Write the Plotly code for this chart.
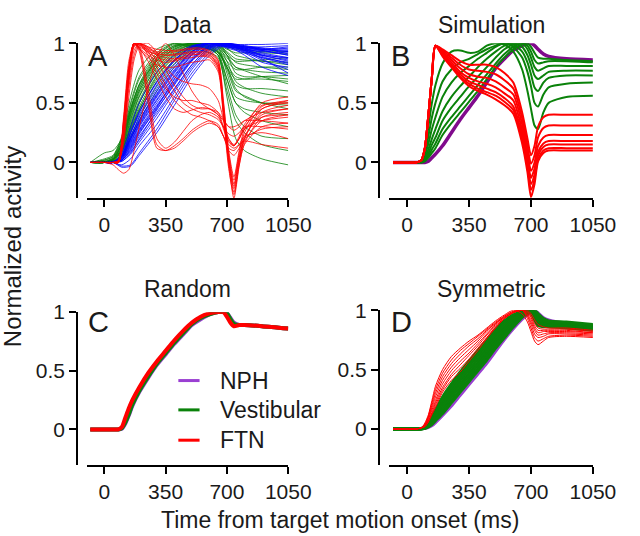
import plotly.graph_objects as go

# ---------------- DATA ----------------
# Panel A (Data): time samples (ms) and normalized activity per neuron
TIME_A_BLUE = [-80, 0, 50, 100, 150, 200, 300, 400, 500, 600, 700, 800, 900, 1050]
A_BLUE = [
    [0, 0, 0, 0.05, 0.2, 0.35, 0.6, 0.8, 0.95, 1.0, 0.99, 0.97, 0.96, 0.95],
    [0, 0, 0, 0.03, 0.15, 0.28, 0.5, 0.7, 0.88, 0.98, 1.0, 0.97, 0.95, 0.93],
    [0, 0, 0.01, 0.04, 0.18, 0.32, 0.55, 0.75, 0.92, 1.0, 0.97, 0.93, 0.9, 0.88],
    [0, 0, 0, 0.02, 0.12, 0.25, 0.45, 0.65, 0.85, 0.97, 1.0, 0.95, 0.9, 0.85],
    [0, 0, 0, 0.06, 0.25, 0.4, 0.65, 0.85, 0.97, 1.0, 0.96, 0.92, 0.88, 0.84],
    [0, 0, 0, -0.02, 0.03, 0.14, 0.32, 0.55, 0.78, 0.94, 0.99, 0.94, 0.88, 0.82],
    [0, 0, 0, 0.05, 0.22, 0.36, 0.58, 0.78, 0.93, 1.0, 0.98, 0.95, 0.93, 0.92],
    [0, 0, 0, 0.04, 0.16, 0.3, 0.52, 0.72, 0.9, 0.99, 0.99, 0.96, 0.94, 0.9],
    [0, 0, 0, 0.02, 0.1, 0.22, 0.42, 0.62, 0.82, 0.96, 1.0, 0.93, 0.86, 0.78],
    [0, 0, 0, -0.03, -0.02, 0.08, 0.28, 0.52, 0.75, 0.92, 1.0, 0.96, 0.92, 0.88],
    [0, 0, 0, 0.08, 0.3, 0.5, 0.76, 0.9, 0.98, 1.0, 0.97, 0.95, 0.94, 0.96],
    [0, 0, 0, 0.03, 0.14, 0.27, 0.48, 0.68, 0.87, 0.98, 0.99, 0.94, 0.87, 0.75],
    [0, 0, 0, 0.05, 0.2, 0.33, 0.56, 0.76, 0.93, 1.0, 0.98, 0.97, 0.97, 0.98],
    [0, 0, 0, 0.04, 0.17, 0.31, 0.53, 0.73, 0.91, 1.0, 0.99, 0.92, 0.84, 0.8],
    [0, 0, 0, 0.01, 0.08, 0.2, 0.44, 0.66, 0.86, 0.98, 1.0, 0.98, 0.96, 0.91],
    [0, 0, 0, 0.05, 0.21, 0.38, 0.62, 0.82, 0.96, 1.0, 0.99, 0.96, 0.9, 0.86],
    [0, 0, 0, 0.02, 0.11, 0.24, 0.46, 0.7, 0.9, 0.99, 0.98, 0.99, 0.99, 1.0],
    [0, 0, 0, 0.06, 0.24, 0.42, 0.68, 0.86, 0.97, 1.0, 0.98, 0.9, 0.8, 0.73],
    [0, 0, 0, 0.03, 0.13, 0.26, 0.47, 0.67, 0.86, 0.97, 1.0, 0.98, 0.95, 0.94],
    [0, 0, 0, 0.04, 0.19, 0.34, 0.57, 0.77, 0.93, 1.0, 0.98, 0.94, 0.91, 0.87],
    [0, 0, 0, 0.01, 0.07, 0.17, 0.37, 0.59, 0.8, 0.95, 1.0, 0.97, 0.94, 0.9],
    [0, 0, 0, 0.06, 0.26, 0.43, 0.67, 0.86, 0.97, 1.0, 0.97, 0.96, 0.95, 0.97],
    [0, 0, 0, 0.02, 0.09, 0.19, 0.4, 0.61, 0.82, 0.96, 0.99, 0.95, 0.89, 0.83],
    [0, 0, 0, -0.04, -0.03, 0.06, 0.25, 0.48, 0.72, 0.9, 0.99, 0.97, 0.95, 0.93],
]

TIME_A_GREEN = [-80, 0, 50, 100, 150, 200, 300, 400, 500, 600, 650, 700, 750, 800, 900, 1050]
A_GREEN = [
    [0, 0, 0.02, 0.1, 0.3, 0.5, 0.75, 0.9, 0.98, 1.0, 0.98, 0.9, 0.85, 0.85, 0.86, 0.88],
    [0, 0, 0.03, 0.15, 0.4, 0.6, 0.85, 0.97, 1.0, 0.98, 0.95, 0.85, 0.78, 0.78, 0.8, 0.8],
    [0, 0, 0.01, 0.08, 0.25, 0.42, 0.68, 0.85, 0.95, 1.0, 1.0, 0.9, 0.75, 0.72, 0.72, 0.7],
    [0, 0.02, 0.05, 0.2, 0.5, 0.72, 0.92, 1.0, 0.97, 0.95, 0.93, 0.8, 0.65, 0.62, 0.62, 0.6],
    [0, 0, 0.02, 0.12, 0.35, 0.55, 0.8, 0.93, 0.99, 1.0, 0.97, 0.75, 0.55, 0.52, 0.5, 0.5],
    [0, 0, 0.04, 0.18, 0.45, 0.65, 0.88, 0.98, 1.0, 0.96, 0.9, 0.7, 0.5, 0.45, 0.42, 0.4],
    [0, 0, 0.02, 0.1, 0.28, 0.45, 0.7, 0.86, 0.96, 1.0, 0.99, 0.95, 0.92, 0.92, 0.92, 0.91],
    [0, 0, 0.03, 0.14, 0.38, 0.58, 0.82, 0.95, 1.0, 0.98, 0.94, 0.82, 0.72, 0.7, 0.7, 0.68],
    [0, 0.03, 0.06, 0.22, 0.55, 0.78, 0.95, 1.0, 0.96, 0.92, 0.88, 0.6, 0.35, 0.25, 0.15, 0.1],
    [0, 0, 0.01, 0.06, 0.2, 0.35, 0.6, 0.8, 0.93, 1.0, 1.0, 0.96, 0.9, 0.88, 0.85, 0.82],
    [0, 0, 0.02, 0.12, 0.33, 0.52, 0.78, 0.92, 0.99, 1.0, 0.98, 0.85, 0.68, 0.63, 0.58, 0.55],
    [0, 0.02, 0.05, 0.2, 0.48, 0.7, 0.9, 0.99, 0.98, 0.95, 0.9, 0.55, 0.2, 0.1, 0.03, -0.02],
    [0, 0, 0.03, 0.16, 0.42, 0.62, 0.86, 0.97, 1.0, 0.97, 0.93, 0.78, 0.6, 0.56, 0.5, 0.45],
    [0, 0, 0.02, 0.09, 0.27, 0.44, 0.72, 0.88, 0.97, 1.0, 0.99, 0.92, 0.84, 0.82, 0.8, 0.78],
    [0, 0.01, 0.04, 0.17, 0.44, 0.66, 0.9, 1.0, 0.98, 0.95, 0.92, 0.8, 0.7, 0.7, 0.72, 0.73],
    [0, 0, 0.02, 0.11, 0.31, 0.5, 0.76, 0.91, 0.98, 1.0, 0.99, 0.93, 0.87, 0.86, 0.85, 0.84],
    [0, 0.08, 0.1, 0.2, 0.45, 0.65, 0.85, 0.95, 1.0, 0.97, 0.93, 0.8, 0.62, 0.55, 0.5, 0.48],
    [0, 0, 0.02, 0.15, 0.4, 0.6, 0.83, 0.96, 1.0, 0.95, 0.9, 0.65, 0.4, 0.3, 0.22, 0.2],
    [0, 0, 0.02, 0.13, 0.36, 0.56, 0.8, 0.94, 0.99, 0.99, 0.96, 0.88, 0.8, 0.78, 0.76, 0.75],
    [0, 0, 0.01, 0.07, 0.22, 0.38, 0.64, 0.83, 0.94, 1.0, 1.0, 0.97, 0.95, 0.94, 0.93, 0.93],
    [0, 0.01, 0.03, 0.16, 0.43, 0.63, 0.87, 0.98, 0.99, 0.96, 0.92, 0.7, 0.5, 0.42, 0.35, 0.3],
    [0, 0, 0.02, 0.1, 0.29, 0.47, 0.73, 0.89, 0.97, 1.0, 0.98, 0.9, 0.8, 0.77, 0.72, 0.66],
]

TIME_A_RED = [-80, 0, 50, 80, 110, 140, 170, 200, 250, 300, 350, 400, 450, 500,
              550, 600, 650, 680, 710, 740, 770, 800, 900, 1050]
A_RED = [
    [0, 0, 0, 0.0, 0.3, 0.75, 1.0, 0.98, 0.94, 0.9, 0.88, 0.87, 0.88, 0.9, 0.91, 0.9, 0.82, 0.45, 0.05, -0.18, 0.05, 0.22, 0.4, 0.45],
    [0, 0, 0, 0.01, 0.35, 0.8, 1.0, 0.96, 0.9, 0.86, 0.84, 0.85, 0.87, 0.88, 0.89, 0.88, 0.78, 0.4, 0.0, -0.22, 0.02, 0.18, 0.35, 0.4],
    [0, 0, 0, 0.0, 0.25, 0.7, 0.98, 1.0, 0.96, 0.93, 0.92, 0.93, 0.94, 0.95, 0.95, 0.93, 0.85, 0.5, 0.1, -0.12, 0.1, 0.28, 0.5, 0.55],
    [0, 0, 0, 0.02, 0.38, 0.85, 1.0, 0.95, 0.88, 0.82, 0.8, 0.8, 0.82, 0.84, 0.85, 0.86, 0.76, 0.38, -0.05, -0.27, -0.02, 0.15, 0.3, 0.33],
    [0, 0, 0, 0.01, 0.32, 0.78, 1.0, 0.99, 0.95, 0.92, 0.9, 0.91, 0.92, 0.93, 0.93, 0.92, 0.83, 0.47, 0.04, -0.2, 0.04, 0.2, 0.45, 0.5],
    [0, 0, 0, 0.0, 0.28, 0.74, 0.99, 0.99, 0.92, 0.88, 0.86, 0.86, 0.89, 0.91, 0.9, 0.89, 0.8, 0.42, -0.02, -0.3, -0.03, 0.16, 0.38, 0.42],
    [0, 0, 0, 0.01, 0.35, 0.8, 1.0, 0.95, 0.55, 0.15, 0.1, 0.14, 0.2, 0.27, 0.32, 0.35, 0.32, 0.22, 0.1, 0.06, 0.12, 0.2, 0.28, 0.3],
    [0, 0, 0, 0.0, 0.3, 0.76, 1.0, 0.97, 0.62, 0.2, 0.12, 0.17, 0.26, 0.35, 0.4, 0.42, 0.38, 0.3, 0.2, 0.15, 0.2, 0.28, 0.35, 0.38],
    [0, 0, 0, 0.01, 0.33, 0.78, 1.0, 0.93, 0.5, 0.12, 0.1, 0.12, 0.18, 0.25, 0.3, 0.33, 0.3, 0.22, 0.12, 0.1, 0.15, 0.22, 0.25, 0.2],
    [0, 0, 0, 0.0, 0.25, 0.7, 0.97, 1.0, 0.9, 0.75, 0.62, 0.55, 0.52, 0.52, 0.5, 0.48, 0.42, 0.3, 0.18, 0.14, 0.2, 0.3, 0.45, 0.52],
    [0, 0, 0, 0.0, 0.2, 0.62, 0.9, 1.0, 0.97, 0.9, 0.8, 0.72, 0.68, 0.66, 0.65, 0.62, 0.52, 0.36, 0.2, 0.14, 0.22, 0.32, 0.48, 0.5],
    [0, 0, 0, 0.0, 0.16, 0.55, 0.86, 0.98, 1.0, 0.92, 0.78, 0.65, 0.55, 0.48, 0.45, 0.45, 0.42, 0.36, 0.3, 0.27, 0.3, 0.35, 0.42, 0.45],
    [0, 0, -0.02, -0.06, -0.09, -0.06, 0.1, 0.3, 0.62, 0.88, 1.0, 0.9, 0.75, 0.6, 0.5, 0.45, 0.4, 0.35, 0.3, 0.3, 0.32, 0.35, 0.35, 0.33],
    [0, 0, 0, 0.01, 0.3, 0.76, 1.0, 0.96, 0.85, 0.7, 0.55, 0.45, 0.42, 0.44, 0.46, 0.45, 0.4, 0.28, 0.17, 0.14, 0.2, 0.28, 0.38, 0.4],
    [0, 0, 0, 0.0, 0.22, 0.66, 0.94, 1.0, 0.95, 0.85, 0.72, 0.6, 0.5, 0.45, 0.42, 0.4, 0.36, 0.3, 0.24, 0.22, 0.25, 0.3, 0.3, 0.28],
    [0, 0, 0, 0.0, 0.27, 0.73, 0.98, 1.0, 0.93, 0.8, 0.65, 0.52, 0.45, 0.4, 0.38, 0.35, 0.3, 0.22, 0.15, 0.12, 0.15, 0.18, 0.15, 0.12],
    [0, 0, 0, 0.01, 0.3, 0.77, 1.0, 0.97, 0.93, 0.91, 0.9, 0.9, 0.91, 0.92, 0.92, 0.91, 0.8, 0.44, 0.02, -0.25, 0.0, 0.2, 0.42, 0.48],
    [0, 0, 0, 0.0, 0.27, 0.72, 0.99, 1.0, 0.97, 0.95, 0.94, 0.94, 0.95, 0.96, 0.96, 0.94, 0.86, 0.52, 0.08, -0.15, 0.08, 0.25, 0.47, 0.52],
]

# Panels B, C, D (models): shared time samples (ms)
TIME_SIM = [-80, 50, 80, 100, 120, 140, 160, 200, 250, 300, 350, 400, 450, 500,
            550, 600, 650, 680, 700, 720, 740, 770, 800, 900, 1050]

B_PURPLE = [0, 0, 0, 0.0, 0.01, 0.04, 0.07, 0.14, 0.25, 0.36, 0.46, 0.56, 0.67, 0.79,
            0.87, 0.94, 0.98, 1.0, 1.0, 0.98, 0.95, 0.91, 0.89, 0.87, 0.86]
B_GREEN = [
    [0, 0, 0.02, 0.1, 0.3, 0.5, 0.65, 0.83, 0.93, 0.94, 0.92, 0.93, 0.98, 1.0, 0.99, 0.93, 0.78, 0.6, 0.45, 0.31, 0.28, 0.42, 0.5, 0.55, 0.56],
    [0, 0, 0.02, 0.08, 0.22, 0.38, 0.5, 0.68, 0.78, 0.84, 0.87, 0.91, 0.95, 0.98, 1.0, 0.97, 0.88, 0.76, 0.64, 0.5, 0.47, 0.57, 0.63, 0.66, 0.67],
    [0, 0, 0.01, 0.06, 0.16, 0.28, 0.38, 0.55, 0.67, 0.75, 0.81, 0.87, 0.92, 0.97, 1.0, 0.99, 0.93, 0.84, 0.74, 0.63, 0.6, 0.67, 0.71, 0.73, 0.73],
    [0, 0, 0.01, 0.04, 0.11, 0.2, 0.28, 0.43, 0.55, 0.64, 0.72, 0.8, 0.87, 0.93, 0.98, 1.0, 0.97, 0.9, 0.82, 0.73, 0.7, 0.73, 0.76, 0.77, 0.77],
    [0, 0, 0.01, 0.03, 0.08, 0.15, 0.21, 0.35, 0.46, 0.55, 0.64, 0.72, 0.8, 0.88, 0.95, 0.99, 1.0, 0.95, 0.88, 0.8, 0.77, 0.79, 0.81, 0.81, 0.81],
    [0, 0, 0.0, 0.02, 0.06, 0.11, 0.16, 0.28, 0.38, 0.47, 0.56, 0.65, 0.74, 0.83, 0.91, 0.97, 1.0, 0.98, 0.93, 0.86, 0.83, 0.84, 0.85, 0.85, 0.84],
    [0, 0, 0.0, 0.01, 0.04, 0.08, 0.12, 0.23, 0.33, 0.42, 0.51, 0.6, 0.7, 0.8, 0.88, 0.95, 0.99, 1.0, 0.97, 0.92, 0.88, 0.87, 0.87, 0.86, 0.85],
]
B_RED = [
    [0, 0, 0.02, 0.12, 0.4, 0.72, 0.98, 0.95, 0.9, 0.85, 0.82, 0.82, 0.82, 0.8, 0.75, 0.67, 0.42, 0.2, 0.06, 0.14, 0.3, 0.38, 0.4, 0.4, 0.4],
    [0, 0, 0.02, 0.12, 0.4, 0.72, 0.98, 0.94, 0.88, 0.82, 0.78, 0.77, 0.76, 0.74, 0.69, 0.62, 0.37, 0.14, -0.01, 0.06, 0.21, 0.29, 0.31, 0.31, 0.31],
    [0, 0, 0.02, 0.12, 0.4, 0.72, 0.98, 0.93, 0.86, 0.79, 0.74, 0.72, 0.71, 0.68, 0.63, 0.57, 0.32, 0.09, -0.07, 0.0, 0.14, 0.21, 0.23, 0.23, 0.23],
    [0, 0, 0.02, 0.12, 0.4, 0.72, 0.98, 0.92, 0.84, 0.76, 0.71, 0.68, 0.66, 0.63, 0.58, 0.52, 0.27, 0.04, -0.13, -0.05, 0.09, 0.16, 0.18, 0.18, 0.18],
    [0, 0, 0.02, 0.12, 0.4, 0.72, 0.98, 0.91, 0.82, 0.74, 0.68, 0.65, 0.62, 0.59, 0.54, 0.47, 0.23, 0.0, -0.18, -0.1, 0.06, 0.13, 0.15, 0.15, 0.15],
    [0, 0, 0.02, 0.12, 0.4, 0.72, 0.98, 0.9, 0.81, 0.72, 0.66, 0.62, 0.59, 0.56, 0.51, 0.44, 0.19, -0.04, -0.23, -0.14, 0.03, 0.1, 0.12, 0.12, 0.12],
    [0, 0, 0.02, 0.12, 0.4, 0.72, 0.98, 0.89, 0.8, 0.71, 0.64, 0.6, 0.57, 0.53, 0.48, 0.41, 0.16, -0.08, -0.29, -0.18, 0.01, 0.08, 0.1, 0.1, 0.1],
]

C_PURPLE = [0, 0, 0, 0.005, 0.05, 0.12, 0.2, 0.32, 0.44, 0.55, 0.64, 0.73, 0.81, 0.89,
            0.94, 0.98, 1.0, 1.0, 0.99, 0.95, 0.91, 0.89, 0.89, 0.88, 0.86]
C_GREEN = [0, 0, 0, 0.01, 0.06, 0.13, 0.21, 0.33, 0.45, 0.56, 0.65, 0.74, 0.82, 0.9,
           0.95, 0.98, 1.0, 1.0, 0.99, 0.94, 0.9, 0.89, 0.89, 0.88, 0.86]
C_RED = [0, 0, 0, 0.02, 0.1, 0.18, 0.25, 0.36, 0.48, 0.58, 0.67, 0.76, 0.84, 0.91,
         0.96, 0.99, 1.0, 1.0, 0.96, 0.91, 0.88, 0.89, 0.89, 0.88, 0.86]

D_PURPLE = [0, 0, 0, 0.003, 0.01, 0.025, 0.05, 0.11, 0.19, 0.28, 0.37, 0.46, 0.55, 0.65,
            0.75, 0.84, 0.92, 0.96, 0.98, 1.0, 0.98, 0.94, 0.92, 0.89, 0.86]
D_GREEN = [
    [0, 0, 0.005, 0.02, 0.05, 0.1, 0.16, 0.27, 0.38, 0.48, 0.57, 0.66, 0.75, 0.84, 0.91, 0.96, 0.99, 1.0, 0.98, 0.92, 0.87, 0.86, 0.86, 0.85, 0.83],
    [0, 0, 0.004, 0.018, 0.045, 0.09, 0.145, 0.25, 0.36, 0.46, 0.55, 0.64, 0.73, 0.82, 0.9, 0.95, 0.99, 1.0, 0.98, 0.93, 0.89, 0.87, 0.87, 0.86, 0.84],
    [0, 0, 0.003, 0.015, 0.04, 0.08, 0.13, 0.23, 0.34, 0.44, 0.53, 0.62, 0.71, 0.8, 0.88, 0.94, 0.98, 1.0, 0.99, 0.95, 0.9, 0.88, 0.88, 0.87, 0.85],
    [0, 0, 0.002, 0.012, 0.035, 0.07, 0.115, 0.21, 0.31, 0.41, 0.5, 0.59, 0.68, 0.78, 0.86, 0.93, 0.98, 1.0, 0.99, 0.96, 0.92, 0.89, 0.88, 0.87, 0.86],
    [0, 0, 0.002, 0.01, 0.03, 0.06, 0.1, 0.19, 0.29, 0.38, 0.47, 0.56, 0.66, 0.76, 0.84, 0.92, 0.97, 0.99, 1.0, 0.97, 0.93, 0.9, 0.89, 0.88, 0.86],
    [0, 0, 0.001, 0.008, 0.025, 0.05, 0.09, 0.17, 0.27, 0.36, 0.45, 0.54, 0.63, 0.73, 0.82, 0.9, 0.96, 0.99, 1.0, 0.98, 0.95, 0.91, 0.9, 0.89, 0.87],
    [0, 0, 0.001, 0.006, 0.02, 0.045, 0.08, 0.15, 0.24, 0.33, 0.42, 0.51, 0.61, 0.71, 0.8, 0.88, 0.95, 0.98, 1.0, 0.99, 0.96, 0.92, 0.9, 0.89, 0.87],
    [0, 0, 0, 0.005, 0.02, 0.04, 0.07, 0.13, 0.22, 0.31, 0.4, 0.49, 0.58, 0.68, 0.77, 0.86, 0.94, 0.97, 0.99, 1.0, 0.97, 0.93, 0.91, 0.9, 0.88],
]
D_RED = [
    [0, 0, 0.01, 0.05, 0.12, 0.24, 0.36, 0.5, 0.61, 0.68, 0.74, 0.79, 0.85, 0.91, 0.96, 1.0, 0.97, 0.9, 0.82, 0.74, 0.71, 0.74, 0.77, 0.78, 0.77],
    [0, 0, 0.01, 0.04, 0.11, 0.22, 0.33, 0.47, 0.58, 0.66, 0.72, 0.78, 0.84, 0.9, 0.95, 0.99, 1.0, 0.93, 0.85, 0.77, 0.74, 0.76, 0.78, 0.79, 0.78],
    [0, 0, 0.01, 0.04, 0.1, 0.2, 0.3, 0.44, 0.55, 0.63, 0.7, 0.76, 0.83, 0.89, 0.95, 0.99, 1.0, 0.95, 0.88, 0.8, 0.77, 0.78, 0.8, 0.8, 0.79],
    [0, 0, 0.01, 0.03, 0.09, 0.18, 0.27, 0.41, 0.52, 0.6, 0.67, 0.74, 0.82, 0.89, 0.94, 0.98, 1.0, 0.96, 0.9, 0.83, 0.79, 0.8, 0.81, 0.81, 0.8],
    [0, 0, 0.01, 0.03, 0.08, 0.16, 0.24, 0.38, 0.49, 0.57, 0.64, 0.72, 0.8, 0.88, 0.94, 0.98, 1.0, 0.97, 0.92, 0.85, 0.81, 0.82, 0.82, 0.82, 0.81],
    [0, 0, 0.01, 0.03, 0.07, 0.14, 0.22, 0.35, 0.46, 0.54, 0.62, 0.7, 0.79, 0.87, 0.93, 0.98, 1.0, 0.98, 0.94, 0.87, 0.83, 0.83, 0.83, 0.83, 0.81],
    [0, 0, 0.01, 0.02, 0.06, 0.13, 0.2, 0.33, 0.44, 0.51, 0.59, 0.68, 0.77, 0.86, 0.93, 0.98, 1.0, 0.99, 0.95, 0.89, 0.85, 0.84, 0.84, 0.84, 0.82],
    [0, 0, 0.01, 0.02, 0.06, 0.12, 0.18, 0.31, 0.41, 0.48, 0.57, 0.66, 0.76, 0.85, 0.93, 0.98, 1.0, 1.0, 0.97, 0.92, 0.88, 0.86, 0.85, 0.85, 0.83],
]

X_TICKS = [0, 350, 700, 1050]
Y_TICKS = [0, 0.5, 1]
Y_TICK_TEXT = ["0", "0.5", "1"]
TITLES = ["Data", "Simulation", "Random", "Symmetric"]
LETTERS = ["A", "B", "C", "D"]
LEGEND_NAMES = ["NPH", "Vestibular", "FTN"]

# ---------------- STYLE ----------------
W, H = 640, 536
RED = "#FF0000"
GREEN = "#0A820A"
BLUE = "#0000FF"
PURPLE = "#800A8C"
PURPLE_L = "#9A3FD2"
FONT = "Liberation Sans, Arial, Helvetica, sans-serif"
TXT = "#1a1a1a"
TICK_SIZE = 21
TEXT_SIZE = 23

def px(x):
    return x / W

def py(y):
    return 1 - y / H

# panel pixel boxes: (x0, x1, y_top, y_bottom, yaxis_x)
BOXES = [
    (90, 299, 32, 190.5, 80),
    (404, 615, 32, 190.5, 393),
    (90, 299, 307, 463, 80),
    (404, 615, 305, 463, 393),
]

fig = go.Figure()

def add_line(panel, xs, ys, color, width):
    sfx = "" if panel == 0 else str(panel + 1)
    fig.add_trace(go.Scatter(
        x=xs, y=ys, mode="lines", xaxis="x" + sfx, yaxis="y" + sfx,
        line=dict(color=color, width=width, shape="spline", smoothing=0.7),
        hoverinfo="skip", showlegend=False))

# Panel A
for ys in A_GREEN:
    add_line(0, TIME_A_GREEN, ys, GREEN, 0.8)
for ys in A_BLUE:
    add_line(0, TIME_A_BLUE, ys, BLUE, 0.8)
for ys in A_RED:
    add_line(0, TIME_A_RED, ys, RED, 0.8)

# Panel B
add_line(1, TIME_SIM, B_PURPLE, PURPLE, 3.5)
for ys in B_GREEN:
    add_line(1, TIME_SIM, ys, GREEN, 2)
for ys in B_RED:
    add_line(1, TIME_SIM, ys, RED, 2)

# Panel C
add_line(2, TIME_SIM, C_PURPLE, PURPLE_L, 4)
add_line(2, TIME_SIM, C_GREEN, GREEN, 4)
add_line(2, TIME_SIM, C_RED, RED, 4)

# Panel D
add_line(3, TIME_SIM, D_PURPLE, PURPLE_L, 2.5)
for ys in D_GREEN:
    add_line(3, TIME_SIM, ys, GREEN, 3)
for ys in D_RED:
    add_line(3, TIME_SIM, ys, RED, 1)

layout = dict(
    width=W, height=H, margin=dict(l=0, r=0, t=0, b=0),
    paper_bgcolor="white", plot_bgcolor="white", showlegend=False,
    font=dict(family=FONT, size=TEXT_SIZE, color=TXT),
)
for i, (x0, x1, yt, yb, yax) in enumerate(BOXES):
    sfx = "" if i == 0 else str(i + 1)
    layout["xaxis" + sfx] = dict(
        domain=[px(x0), px(x1)], range=[-100, 1050], anchor="y" + sfx,
        tickvals=X_TICKS, ticks="outside", ticklen=7, tickwidth=2,
        showline=True, linewidth=2, linecolor="black", tickcolor="black",
        showgrid=False, zeroline=False, tickfont=dict(size=TICK_SIZE, color=TXT))
    layout["yaxis" + sfx] = dict(
        domain=[py(yb), py(yt)], range=[-0.3, 1.0], anchor="free",
        position=px(yax), tickvals=Y_TICKS, ticktext=Y_TICK_TEXT,
        ticks="outside", ticklen=7, tickwidth=2,
        showline=True, linewidth=2, linecolor="black", tickcolor="black",
        showgrid=False, zeroline=False, tickfont=dict(size=TICK_SIZE, color=TXT))
fig.update_layout(**layout)

ann = []
title_pos = [(195, 13), (510, 13), (195, 283), (510, 283)]
for t, (x, y) in zip(TITLES, title_pos):
    ann.append(dict(text=t, x=px(x), y=py(y), xref="paper", yref="paper",
                    showarrow=False, xanchor="center", yanchor="middle",
                    font=dict(size=TEXT_SIZE, color=TXT)))
letter_pos = [(89, 45), (403, 45), (89, 317), (403, 317)]
for t, (x, y) in zip(LETTERS, letter_pos):
    ann.append(dict(text=t, x=px(x), y=py(y), xref="paper", yref="paper",
                    showarrow=False, xanchor="left", yanchor="middle",
                    font=dict(size=29, color=TXT)))
ann.append(dict(text="Normalized activity", x=px(13), y=py(240), xref="paper",
                yref="paper", showarrow=False, textangle=-90,
                xanchor="center", yanchor="middle", font=dict(size=24, color=TXT)))
ann.append(dict(text="Time from target motion onset (ms)", x=px(353), y=py(520),
                xref="paper", yref="paper", showarrow=False,
                xanchor="center", yanchor="middle", font=dict(size=TEXT_SIZE, color=TXT)))

shapes = []
leg_y = [377, 407, 438]
leg_col = [PURPLE_L, GREEN, RED]
for name, y, c in zip(LEGEND_NAMES, leg_y, leg_col):
    shapes.append(dict(type="line", xref="paper", yref="paper",
                       x0=px(185), x1=px(207), y0=py(y), y1=py(y),
                       line=dict(color=c, width=3)))
    ann.append(dict(text=name, x=px(226), y=py(y), xref="paper", yref="paper",
                    showarrow=False, xanchor="left", yanchor="middle",
                    font=dict(size=TEXT_SIZE, color=TXT)))

fig.update_layout(annotations=ann, shapes=shapes)
fig.write_html("out.html", config={"displayModeBar": False},
               post_script="document.body.style.margin='0px';"
                           "document.body.style.overflow='hidden';")
